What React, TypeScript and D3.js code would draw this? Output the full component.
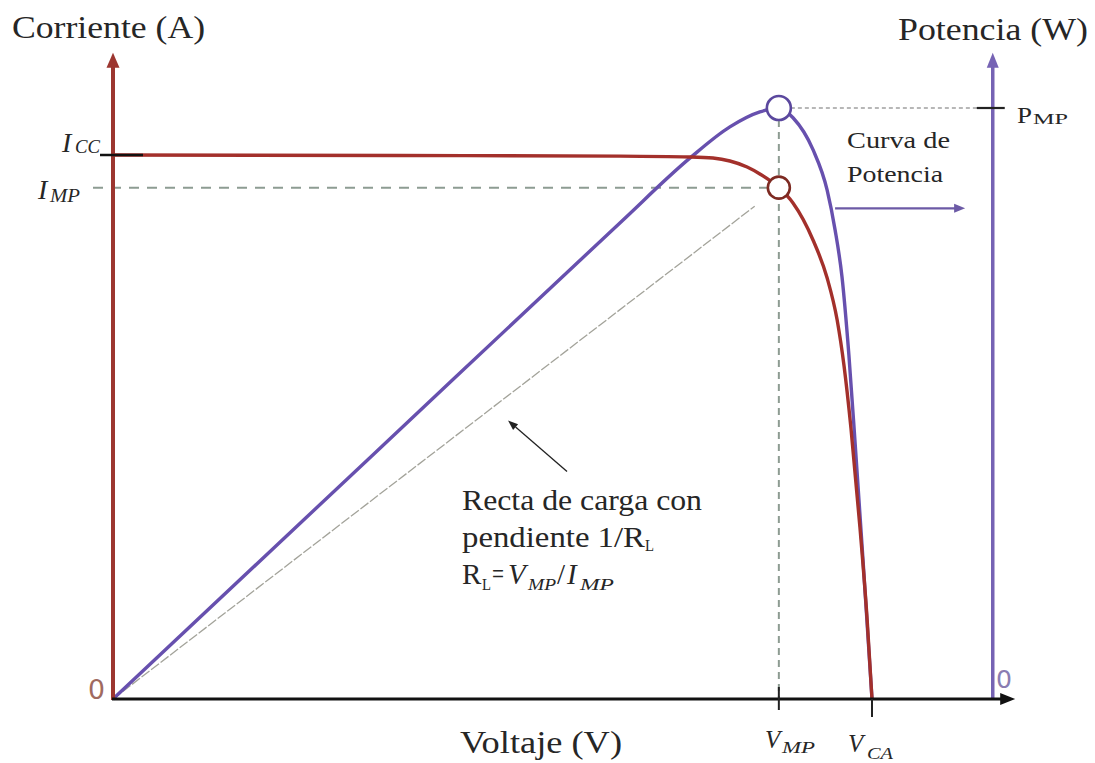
import React from "react";
import * as d3 from "d3";

const W = 1095;
const H = 763;

// I–V characteristic of the panel (volts, amps)
const ivVoltage = [0, 8.3, 14.7, 16.72, 17.39, 17.88, 18.38, 18.75, 19.3, 19.71, 20.29, 20.7, 20.99, 21.19, 21.39, 21.65, 21.86, 22.0];
const ivCurrent = [5.0, 4.995, 4.99, 4.982, 4.972, 4.945, 4.89, 4.826, 4.7, 4.559, 4.219, 3.869, 3.483, 3.06, 2.49, 1.58, 0.726, 0];

// P–V characteristic (volts, watts)
const pvVoltage = [0, 7.5, 14.7, 16.72, 17.88, 18.75, 19.3, 19.71, 20.29, 20.7, 20.93, 21.13, 21.33, 21.51, 21.74, 22.0];
const pvPower = [0, 37.3, 73.1, 83.0, 87.8, 90.1, 90.7, 89.2, 84.3, 78.1, 72.0, 64.8, 52.8, 39.3, 21.3, 0];

// characteristic points
const ISC = 5.0;
const IMP = 4.7;
const VMP = 19.3;
const VCA = 22.0;
const PMP = 90.7;

// axis extents (arrow tips) and the voltage where the power axis stands
const V_AXIS_END = 26.15;
const I_AXIS_END = 5.94;
const V_POWER_AXIS = 25.5;

// load line drawn up to this voltage
const LOAD_LINE_END = 18.6;

// annotation anchors in data units
const noteArrowFrom = { v: 13.16, i: 2.09 };
const noteArrowTo = { v: 11.45, i: 2.56 };
const powerArrow = { v0: 20.93, v1: 24.7, p: 75.3 };

const RED = "#a3302b";
const RED_AXIS = "#9c3630";
const PURPLE = "#6750ae";
const PURPLE_AXIS = "#7663b4";
const GUIDE = "#8d9c92";
const TEXT = "#262626";
const SERIF = "'Liberation Serif', 'Times New Roman', serif";

type PieceProps = {
  x: number;
  y: number;
  size: number;
  len?: number;
  italic?: boolean;
  fill?: string;
  family?: string;
  children: React.ReactNode;
};

const Piece = ({ x, y, size, len, italic, fill, family, children }: PieceProps) => (
  <text
    x={x}
    y={y}
    fontSize={size}
    fontFamily={family ?? SERIF}
    fontStyle={italic ? "italic" : "normal"}
    fill={fill ?? TEXT}
    textLength={len}
    lengthAdjust={len ? "spacingAndGlyphs" : undefined}
  >
    {children}
  </text>
);

export default function App() {
  const x = d3.scaleLinear().domain([0, VCA]).range([113, 872]);
  const yI = d3.scaleLinear().domain([0, ISC]).range([699, 155]);
  const yP = d3.scaleLinear().domain([0, PMP]).range([699, 108]);

  const ivData = ivVoltage.map((v, k) => [v, ivCurrent[k]] as [number, number]);
  const pvData = pvVoltage.map((v, k) => [v, pvPower[k]] as [number, number]);

  const ivLine = d3
    .line<[number, number]>()
    .x((d) => x(d[0]))
    .y((d) => yI(d[1]))
    .curve(d3.curveMonotoneX);
  const pvLine = d3
    .line<[number, number]>()
    .x((d) => x(d[0]))
    .y((d) => yP(d[1]))
    .curve(d3.curveMonotoneX);

  const x0 = x(0);
  const yBase = yI(0);
  const xP = x(V_POWER_AXIS);
  const yTop = yI(I_AXIS_END);
  const xEnd = x(V_AXIS_END);

  const xMP = x(VMP);
  const yIMP = yI(IMP);
  const yPMP = yP(PMP);
  const yICC = yI(ISC);
  const xCA = x(VCA);

  const rMPP = 11;
  const rPeak = 12;

  // load line: I = V · IMP / VMP
  const loadSlope = IMP / VMP;

  // annotation arrow
  const ax0 = x(noteArrowFrom.v);
  const ay0 = yI(noteArrowFrom.i);
  const ax1 = x(noteArrowTo.v);
  const ay1 = yI(noteArrowTo.i);
  const ang = Math.atan2(ay1 - ay0, ax1 - ax0);
  const headLen = 10;
  const headW = 3.8;
  const hb = [ax1 - headLen * Math.cos(ang), ay1 - headLen * Math.sin(ang)];
  const noteHead = [
    [ax1, ay1],
    [hb[0] + headW * Math.sin(ang), hb[1] - headW * Math.cos(ang)],
    [hb[0] - headW * Math.sin(ang), hb[1] + headW * Math.cos(ang)],
  ];

  const pax0 = x(powerArrow.v0);
  const pax1 = x(powerArrow.v1);
  const pay = yP(powerArrow.p);

  return (
    <svg width={W} height={H} style={{ position: "absolute", left: 0, top: 0, background: "#fff" }}>
      <rect x={0} y={0} width={W} height={H} fill="#fff" />

      {/* guide lines at the maximum power point */}
      <line x1={93} x2={xMP - rMPP} y1={yIMP} y2={yIMP} stroke={GUIDE} strokeWidth={2} strokeDasharray="10 8" />
      <line x1={xMP} x2={xMP} y1={yPMP + rPeak} y2={yBase} stroke={GUIDE} strokeWidth={2} strokeDasharray="7 5" />
      <line x1={xMP + rPeak} x2={xP} y1={yPMP} y2={yPMP} stroke="#a0a0a0" strokeWidth={1.5} strokeDasharray="4 3" />

      {/* load line */}
      <line
        x1={x(0)}
        y1={yI(0)}
        x2={x(LOAD_LINE_END)}
        y2={yI(LOAD_LINE_END * loadSlope)}
        stroke="#a3a39a"
        strokeWidth={1.3}
        strokeDasharray="10 2"
      />

      {/* curves */}
      <path d={pvLine(pvData) ?? ""} fill="none" stroke={PURPLE} strokeWidth={3.4} strokeLinejoin="round" />
      <path d={ivLine(ivData) ?? ""} fill="none" stroke={RED} strokeWidth={3.4} strokeLinejoin="round" />

      {/* marked points */}
      <circle cx={xMP} cy={yPMP} r={rPeak} fill="#fff" stroke="#5b489e" strokeWidth={2.6} />
      <circle cx={xMP} cy={yIMP} r={rMPP} fill="#fff" stroke="#7d2a22" strokeWidth={2.6} />

      {/* current axis */}
      <line x1={x0} x2={x0} y1={yBase + 1} y2={yTop + 12} stroke={RED_AXIS} strokeWidth={4} />
      <path d={`M${x0},${yTop} L${x0 - 6.5},${yTop + 15} L${x0 + 6.5},${yTop + 15} Z`} fill={RED_AXIS} />

      {/* power axis */}
      <line x1={xP} x2={xP} y1={yBase} y2={yTop + 12} stroke={PURPLE_AXIS} strokeWidth={3.5} />
      <path d={`M${xP},${yTop} L${xP - 6},${yTop + 15} L${xP + 6},${yTop + 15} Z`} fill={PURPLE_AXIS} />

      {/* voltage axis */}
      <line x1={x0 - 1} x2={xEnd - 12} y1={yBase} y2={yBase} stroke="#111" strokeWidth={3} />
      <path d={`M${xEnd},${yBase} L${xEnd - 15},${yBase - 6} L${xEnd - 15},${yBase + 6} Z`} fill="#111" />

      {/* ticks */}
      <line x1={100} x2={143} y1={yICC} y2={yICC} stroke="#111" strokeWidth={2.4} />
      <line x1={xP - 16} x2={xP + 12} y1={yPMP} y2={yPMP} stroke="#222" strokeWidth={2.2} />
      <line x1={xMP} x2={xMP} y1={yBase - 12} y2={yBase + 11} stroke="#222" strokeWidth={2} />
      <line x1={xCA} x2={xCA} y1={yBase} y2={yBase + 18} stroke="#222" strokeWidth={2} />

      {/* power curve pointer */}
      <line x1={pax0} x2={pax1 - 8} y1={pay} y2={pay} stroke="#6c5aa6" strokeWidth={2.4} />
      <path d={`M${pax1},${pay} L${pax1 - 11},${pay - 4.5} L${pax1 - 11},${pay + 4.5} Z`} fill="#6c5aa6" />

      {/* load line note pointer */}
      <line x1={ax0} y1={ay0} x2={hb[0]} y2={hb[1]} stroke="#222" strokeWidth={1.3} />
      <path d={`M${noteHead.map((p) => p.join(",")).join(" L")} Z`} fill="#222" />

      {/* axis titles */}
      <Piece x={12} y={38} size={32} len={193}>Corriente (A)</Piece>
      <Piece x={898} y={40} size={32} len={190}>Potencia (W)</Piece>
      <Piece x={460} y={753} size={32} len={162}>Voltaje (V)</Piece>

      {/* zero labels */}
      <Piece x={88} y={699} size={27} len={17} fill="#a06a60" family="'DejaVu Sans', sans-serif">0</Piece>
      <Piece x={996} y={688} size={25} len={16} fill="#8a7db2" family="'DejaVu Sans', sans-serif">0</Piece>

      {/* current labels */}
      <Piece x={62} y={152} size={28} italic>I</Piece>
      <Piece x={75} y={153} size={18} len={25} italic>CC</Piece>
      <Piece x={38} y={199} size={28} italic>I</Piece>
      <Piece x={50} y={202} size={18} len={30} italic>MP</Piece>

      {/* power label */}
      <Piece x={1017} y={123} size={24} len={15}>P</Piece>
      <Piece x={1033} y={124} size={15} len={35}>MP</Piece>

      {/* voltage labels */}
      <Piece x={765} y={748} size={25} italic>V</Piece>
      <Piece x={782} y={753} size={17} len={33} italic>MP</Piece>
      <Piece x={848} y={752} size={25} italic>V</Piece>
      <Piece x={867} y={759} size={17} len={26} italic>CA</Piece>

      {/* power curve caption */}
      <Piece x={847} y={148} size={24} len={103}>Curva de</Piece>
      <Piece x={847} y={182} size={24} len={96}>Potencia</Piece>

      {/* load line caption */}
      <Piece x={462} y={510} size={29} len={240}>Recta de carga con</Piece>
      <Piece x={462} y={547} size={29} len={183}>pendiente 1/R</Piece>
      <Piece x={645} y={551} size={17} len={9}>L</Piece>
      <Piece x={462} y={584} size={29}>R</Piece>
      <Piece x={482} y={590} size={17} len={9}>L</Piece>
      <Piece x={492} y={584} size={29} len={12}>=</Piece>
      <Piece x={508} y={584} size={29} italic>V</Piece>
      <Piece x={528} y={590} size={17} len={28} italic>MP</Piece>
      <Piece x={557} y={584} size={29}>/</Piece>
      <Piece x={567} y={584} size={29} italic>I</Piece>
      <Piece x={580} y={590} size={17} len={34} italic>MP</Piece>
    </svg>
  );
}
